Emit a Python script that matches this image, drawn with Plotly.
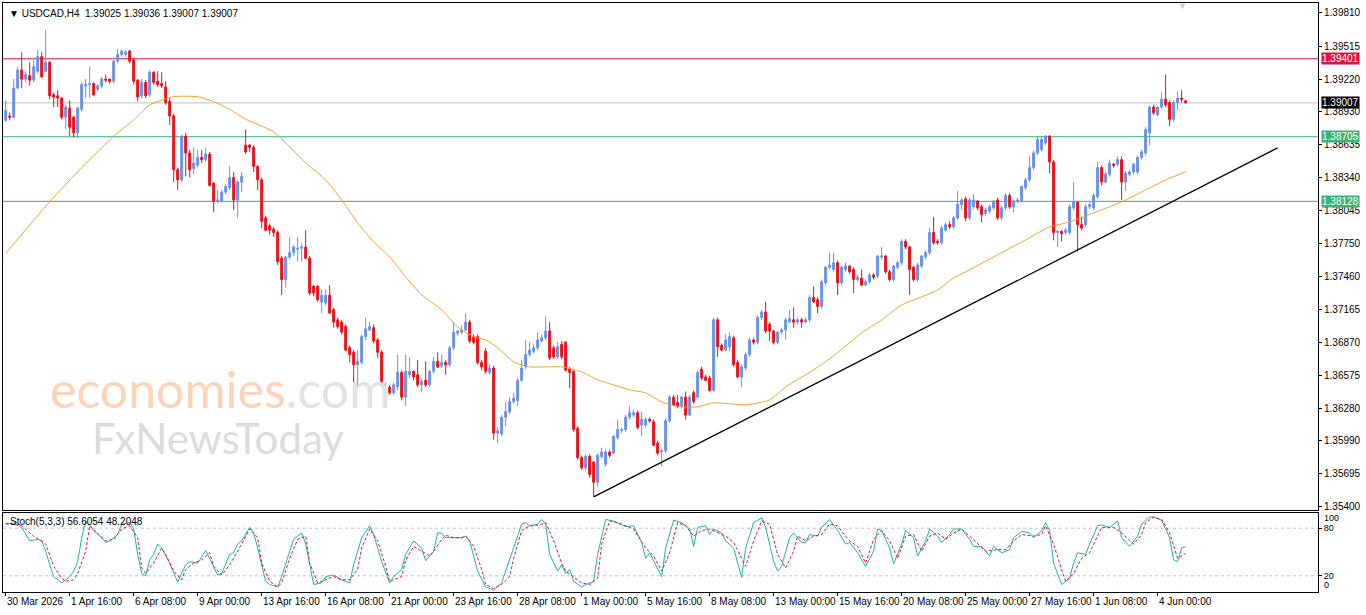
import plotly.graph_objects as go

# ---------------- DATA ----------------
symbol_header = "USDCAD,H4"
last_ohlc = ["1.39025", "1.39036", "1.39007", "1.39007"]

opens = [1.3885,1.3889,1.3888,1.3914,1.3930,1.3922,1.3925,1.3921,1.3929,1.3942,
1.3929,1.3937,1.3908,1.3907,1.3905,1.3888,1.3896,1.3888,1.3874,1.3895,
1.3916,1.3917,1.3918,1.3913,1.3916,1.3922,1.3922,1.3920,1.3938,1.3944,
1.3944,1.3947,1.3939,1.3921,1.3907,1.3919,1.3908,1.3928,1.3920,1.3918,
1.3915,1.3902,1.3889,1.3841,1.3832,1.3871,1.3856,1.3842,1.3845,1.3852,
1.3850,1.3855,1.3829,1.3813,1.3813,1.3821,1.3825,1.3834,1.3814,1.3830,
1.3863,1.3863,1.3861,1.3844,1.3832,1.3798,1.3791,1.3788,1.3785,1.3762,
1.3743,1.3763,1.3767,1.3770,1.3771,1.3772,1.3762,1.3737,1.3737,1.3723,
1.3722,1.3729,1.3716,1.3707,1.3705,1.3701,1.3682,1.3678,1.3667,1.3669,
1.3692,1.3698,1.3700,1.3689,1.3678,1.3638,1.3647,1.3642,1.3647,1.3660,
1.3638,1.3658,1.3661,1.3658,1.3649,1.3653,1.3649,1.3661,1.3670,1.3666,
1.3669,1.3667,1.3682,1.3695,1.3696,1.3698,1.3705,1.3692,1.3692,1.3669,
1.3679,1.3660,1.3664,1.3606,1.3605,1.3620,1.3625,1.3634,1.3635,1.3653,
1.3665,1.3676,1.3679,1.3682,1.3688,1.3691,1.3697,1.3682,1.3674,1.3685,
1.3687,1.3663,1.3661,1.3610,1.3584,1.3575,1.3585,1.3580,1.3562,1.3585,
1.3578,1.3589,1.3588,1.3602,1.3608,1.3609,1.3620,1.3622,1.3624,1.3613,
1.3613,1.3618,1.3616,1.3597,1.3589,1.3590,1.3617,1.3638,1.3633,1.3630,
1.3638,1.3622,1.3642,1.3638,1.3663,1.3656,1.3655,1.3644,1.3707,1.3684,
1.3680,1.3683,1.3691,1.3669,1.3656,1.3664,1.3676,1.3689,1.3687,1.3709,
1.3714,1.3703,1.3697,1.3687,1.3696,1.3698,1.3705,1.3707,1.3705,1.3707,
1.3705,1.3707,1.3727,1.3725,1.3719,1.3740,1.3754,1.3752,1.3758,1.3740,
1.3752,1.3755,1.3752,1.3743,1.3744,1.3738,1.3741,1.3747,1.3746,1.3763,
1.3764,1.3750,1.3743,1.3754,1.3758,1.3777,1.3772,1.3754,1.3743,1.3755,
1.3763,1.3767,1.3785,1.3777,1.3776,1.3787,1.3792,1.3790,1.3798,1.3810,
1.3815,1.3798,1.3808,1.3813,1.3808,1.3802,1.3804,1.3807,1.3814,1.3798,
1.3807,1.3818,1.3808,1.3813,1.3813,1.3825,1.3832,1.3843,1.3856,1.3859,
1.3865,1.3871,1.3848,1.3785,1.3786,1.3785,1.3785,1.3807,1.3812,1.3792,
1.3792,1.3808,1.3807,1.3817,1.3843,1.3830,1.3837,1.3846,1.3846,1.3850,
1.3830,1.3837,1.3839,1.3839,1.3852,1.3856,1.3874,1.3897,1.3890,1.3897,
1.3904,1.3901,1.3886,1.3901,1.3905,1.39025]

highs = [1.3903,1.3892,1.3922,1.3933,1.3946,1.3929,1.3937,1.3939,1.3948,1.3946,
1.3966,1.3938,1.3910,1.3912,1.3906,1.3899,1.3903,1.3889,1.3897,1.3919,
1.3922,1.3933,1.3919,1.3917,1.3924,1.3926,1.3922,1.3939,1.3949,1.3948,
1.3948,1.3948,1.3941,1.3922,1.3922,1.3921,1.3930,1.3929,1.3929,1.3928,
1.3920,1.3905,1.3891,1.3843,1.3872,1.3874,1.3859,1.3861,1.3859,1.3859,
1.3861,1.3857,1.3830,1.3823,1.3823,1.3828,1.3844,1.3839,1.3832,1.3839,
1.3877,1.3864,1.3863,1.3845,1.3834,1.3800,1.3793,1.3790,1.3787,1.3764,
1.3764,1.3781,1.3774,1.3781,1.3776,1.3787,1.3764,1.3738,1.3738,1.3734,
1.3734,1.3738,1.3718,1.3709,1.3707,1.3703,1.3684,1.3680,1.3680,1.3694,
1.3709,1.3705,1.3703,1.3691,1.3680,1.3651,1.3649,1.3651,1.3676,1.3662,
1.3676,1.3674,1.3662,1.3671,1.3655,1.3670,1.3662,1.3674,1.3678,1.3676,
1.3671,1.3684,1.3705,1.3698,1.3702,1.3713,1.3707,1.3694,1.3694,1.3671,
1.3682,1.3667,1.3666,1.3611,1.3622,1.3634,1.3638,1.3642,1.3655,1.3671,
1.3689,1.3687,1.3685,1.3696,1.3694,1.3710,1.3705,1.3684,1.3687,1.3688,
1.3688,1.3665,1.3662,1.3612,1.3586,1.3587,1.3587,1.3581,1.3588,1.3593,
1.3591,1.3591,1.3604,1.3618,1.3611,1.3622,1.3630,1.3627,1.3626,1.3625,
1.3620,1.3620,1.3618,1.3599,1.3592,1.3619,1.3640,1.3640,1.3640,1.3639,
1.3643,1.3640,1.3644,1.3662,1.3665,1.3658,1.3657,1.3709,1.3709,1.3686,
1.3694,1.3696,1.3693,1.3671,1.3667,1.3678,1.3691,1.3691,1.3711,1.3716,
1.3723,1.3705,1.3698,1.3697,1.3700,1.3709,1.3716,1.3718,1.3709,1.3709,
1.3709,1.3729,1.3737,1.3727,1.3743,1.3755,1.3767,1.3767,1.3760,1.3755,
1.3758,1.3756,1.3754,1.3747,1.3752,1.3743,1.3749,1.3749,1.3765,1.3772,
1.3765,1.3752,1.3756,1.3760,1.3779,1.3779,1.3773,1.3755,1.3758,1.3765,
1.3769,1.3789,1.3799,1.3779,1.3791,1.3794,1.3795,1.3800,1.3822,1.3816,
1.3817,1.3816,1.3819,1.3814,1.3810,1.3807,1.3810,1.3814,1.3816,1.3809,
1.3820,1.3820,1.3814,1.3816,1.3827,1.3834,1.3853,1.3858,1.3871,1.3871,
1.3872,1.3872,1.3850,1.3787,1.3787,1.3789,1.3810,1.3830,1.3813,1.3799,
1.3810,1.3812,1.3820,1.3848,1.3845,1.3839,1.3850,1.3847,1.3853,1.3853,
1.3840,1.3841,1.3847,1.3854,1.3859,1.3879,1.3898,1.3899,1.3898,1.3910,
1.3926,1.3903,1.3903,1.3911,1.3912,1.39036]

lows = [1.3884,1.3885,1.3887,1.3913,1.3914,1.3919,1.3916,1.3919,1.3927,1.3923,
1.3928,1.3904,1.3897,1.3897,1.3886,1.3877,1.3871,1.3870,1.3869,1.3893,
1.3905,1.3905,1.3907,1.3911,1.3914,1.3919,1.3918,1.3918,1.3936,1.3942,
1.3942,1.3936,1.3917,1.3902,1.3905,1.3905,1.3906,1.3917,1.3915,1.3914,
1.3899,1.3881,1.3830,1.3823,1.3830,1.3835,1.3834,1.3837,1.3843,1.3847,
1.3848,1.3826,1.3803,1.3811,1.3812,1.3819,1.3823,1.3805,1.3798,1.3821,
1.3855,1.3857,1.3839,1.3823,1.3789,1.3786,1.3783,1.3781,1.3756,1.3729,
1.3736,1.3761,1.3764,1.3759,1.3759,1.3761,1.3729,1.3728,1.3723,1.3713,
1.3720,1.3713,1.3700,1.3699,1.3694,1.3679,1.3669,1.3647,1.3647,1.3667,
1.3689,1.3697,1.3686,1.3673,1.3649,1.3633,1.3640,1.3640,1.3644,1.3635,
1.3630,1.3655,1.3653,1.3647,1.3642,1.3647,1.3647,1.3659,1.3664,1.3664,
1.3658,1.3665,1.3680,1.3693,1.3694,1.3697,1.3686,1.3685,1.3667,1.3662,
1.3659,1.3658,1.3600,1.3597,1.3603,1.3612,1.3623,1.3632,1.3630,1.3652,
1.3663,1.3674,1.3677,1.3680,1.3687,1.3689,1.3671,1.3672,1.3672,1.3672,
1.3661,1.3646,1.3607,1.3582,1.3573,1.3573,1.3566,1.3549,1.3558,1.3583,
1.3576,1.3584,1.3587,1.3600,1.3606,1.3607,1.3618,1.3620,1.3609,1.3603,
1.3611,1.3615,1.3594,1.3586,1.3576,1.3588,1.3615,1.3630,1.3628,1.3628,
1.3618,1.3621,1.3632,1.3637,1.3653,1.3652,1.3643,1.3643,1.3674,1.3679,
1.3679,1.3679,1.3665,1.3655,1.3647,1.3662,1.3674,1.3685,1.3685,1.3707,
1.3695,1.3688,1.3685,1.3685,1.3694,1.3689,1.3704,1.3700,1.3703,1.3700,
1.3704,1.3705,1.3722,1.3713,1.3717,1.3738,1.3752,1.3750,1.3729,1.3738,
1.3750,1.3748,1.3731,1.3741,1.3737,1.3737,1.3739,1.3743,1.3744,1.3761,
1.3748,1.3741,1.3741,1.3752,1.3756,1.3770,1.3729,1.3741,1.3741,1.3753,
1.3761,1.3765,1.3774,1.3774,1.3774,1.3786,1.3788,1.3788,1.3796,1.3805,
1.3795,1.3796,1.3806,1.3805,1.3794,1.3800,1.3802,1.3805,1.3796,1.3796,
1.3805,1.3806,1.3803,1.3811,1.3812,1.3823,1.3830,1.3841,1.3854,1.3857,
1.3863,1.3838,1.3778,1.3772,1.3777,1.3783,1.3783,1.3805,1.3768,1.3787,
1.3790,1.3806,1.3805,1.3815,1.3827,1.3829,1.3835,1.3843,1.3844,1.3814,
1.3822,1.3835,1.3837,1.3837,1.3850,1.3854,1.3863,1.3890,1.3889,1.3895,
1.3897,1.3880,1.3884,1.3894,1.3901,1.39007]

closes = [1.3894,1.3888,1.3914,1.3930,1.3922,1.3926,1.3921,1.3933,1.3942,1.3924,
1.3937,1.3907,1.3906,1.3905,1.3888,1.3897,1.3879,1.3874,1.3896,1.3917,
1.3917,1.3918,1.3908,1.3916,1.3922,1.3921,1.3920,1.3938,1.3944,1.3947,
1.3946,1.3938,1.3920,1.3906,1.3919,1.3907,1.3928,1.3919,1.3917,1.3916,
1.3901,1.3889,1.3841,1.3832,1.3871,1.3856,1.3841,1.3847,1.3852,1.3850,
1.3855,1.3827,1.3813,1.3814,1.3821,1.3826,1.3834,1.3814,1.3830,1.3835,
1.3857,1.3861,1.3844,1.3832,1.3795,1.3787,1.3787,1.3785,1.3759,1.3743,
1.3763,1.3767,1.3772,1.3771,1.3772,1.3762,1.3731,1.3731,1.3725,1.3729,
1.3729,1.3713,1.3705,1.3701,1.3696,1.3680,1.3676,1.3667,1.3670,1.3692,
1.3699,1.3701,1.3688,1.3678,1.3652,1.3645,1.3642,1.3649,1.3660,1.3638,
1.3661,1.3661,1.3656,1.3649,1.3652,1.3649,1.3661,1.3670,1.3665,1.3669,
1.3667,1.3682,1.3696,1.3697,1.3698,1.3705,1.3688,1.3687,1.3669,1.3665,
1.3661,1.3664,1.3606,1.3608,1.3620,1.3625,1.3634,1.3637,1.3653,1.3664,
1.3676,1.3680,1.3682,1.3689,1.3691,1.3697,1.3673,1.3674,1.3683,1.3674,
1.3662,1.3660,1.3609,1.3584,1.3575,1.3585,1.3569,1.3562,1.3586,1.3589,
1.3589,1.3586,1.3603,1.3609,1.3609,1.3620,1.3624,1.3624,1.3611,1.3618,
1.3618,1.3617,1.3595,1.3588,1.3590,1.3617,1.3638,1.3631,1.3630,1.3638,
1.3622,1.3638,1.3634,1.3660,1.3655,1.3653,1.3644,1.3707,1.3683,1.3680,
1.3689,1.3692,1.3667,1.3656,1.3665,1.3676,1.3689,1.3687,1.3709,1.3714,
1.3697,1.3697,1.3687,1.3696,1.3698,1.3707,1.3708,1.3705,1.3707,1.3705,
1.3707,1.3727,1.3723,1.3719,1.3741,1.3754,1.3756,1.3758,1.3740,1.3754,
1.3755,1.3750,1.3743,1.3745,1.3738,1.3741,1.3747,1.3745,1.3764,1.3764,
1.3750,1.3743,1.3755,1.3758,1.3777,1.3772,1.3752,1.3743,1.3756,1.3764,
1.3767,1.3785,1.3776,1.3776,1.3789,1.3792,1.3790,1.3798,1.3810,1.3814,
1.3798,1.3814,1.3814,1.3807,1.3801,1.3805,1.3808,1.3813,1.3798,1.3807,
1.3818,1.3808,1.3813,1.3814,1.3826,1.3832,1.3843,1.3856,1.3868,1.3868,
1.3871,1.3848,1.3785,1.3786,1.3784,1.3787,1.3808,1.3812,1.3792,1.3789,
1.3808,1.3810,1.3818,1.3843,1.3830,1.3837,1.3847,1.3845,1.3850,1.3830,
1.3838,1.3839,1.3846,1.3852,1.3857,1.3877,1.3897,1.3892,1.3897,1.3904,
1.3899,1.3886,1.3901,1.3905,1.3904,1.39007]

# moving average (orange) read at sampled bars
ma_bars = [0,11,19,27,32,36,42,48,52,56,60,67,75,80,84,88,92,96,100,104,109,113,117,120,
           123,127,131,135,139,144,148,152,156,160,164,169,173,177,185,191,195,202,208,214,219,224,229,
           233,237,240,247,255,261,266,272,279,285,290,295]
ma_vals = [1.37664,1.38125,1.38428,1.38709,1.38854,1.38988,1.39062,1.39062,1.39018,1.38950,1.38861,
           1.38748,1.38471,1.38319,1.38141,1.37935,1.37766,1.37632,1.37453,1.37293,
           1.37159,1.37007,1.36918,1.36891,1.36820,1.36695,1.36650,1.36650,1.36650,1.36605,1.36534,1.36489,
           1.36445,1.36418,1.36337,1.36293,1.36293,1.36329,1.36311,1.36355,1.36471,1.36623,1.36775,1.36953,
           1.37069,1.37203,1.37275,1.37337,1.37444,1.37498,1.37632,1.37784,1.37900,1.37944,1.38025,1.38123,
           1.38230,1.38319,1.38391]

# trend line anchors (bar, price)
trend_bars = [147, 318]
trend_prices = [1.35490, 1.38605]

# horizontal levels
resistance_level = 1.39401
support_levels = [1.38705, 1.38128]
current_price = 1.39007

# stochastic (5,3,3)
stoch_label = "Stoch(5,3,3) 56.6054 48.2048"
k_pairs = [(0,85),(1,86),(3,87),(4,81),(6,64),(8,66),(9,64),(10,51),(11,34),(12,19),(14,11),(15,15),(16,19),
(17,26),(18,38),(19,68),(20,89),(22,77),(24,68),(25,62),(26,64),(28,72),(29,85),(31,87),(32,79),(33,47),(34,23),
(35,20),(36,40),(37,47),(38,60),(39,55),(41,36),(43,12),(44,23),(45,34),(46,38),(48,36),(50,52),(51,42),(53,21),
(54,23),(56,47),(57,49),(58,60),(59,64),(61,81),(62,74),(63,55),(65,13),(66,9),(68,6),(69,19),(71,51),(72,66),
(74,74),(75,60),(77,9),(79,11),(80,19),(82,21),(84,15),(86,11),(87,34),(89,68),(91,83),(92,72),(94,38),(96,11),
(97,19),(99,28),(100,47),(102,64),(104,55),(105,39),(107,51),(108,74),(109,74),(110,68),(112,68),(114,68),(115,70),
(116,64),(118,26),(120,6),(122,2),(124,11),(125,26),(127,55),(129,85),(130,87),(131,83),(133,85),(134,91),(135,85),
(136,47),(138,26),(139,34),(140,23),(141,28),(142,13),(144,6),(145,9),(147,13),(148,47),(150,91),(152,89),(154,85),
(155,82),(157,83),(159,62),(160,42),(161,49),(164,19),(165,55),(167,90),(169,87),(171,79),(172,57),(173,81),(175,83),
(176,72),(177,79),(179,74),(180,64),(182,55),(184,18),(185,55),(187,87),(189,93),(190,81),(192,38),(193,26),(194,32),
(196,68),(197,74),(199,62),(200,62),(201,72),(203,70),(204,81),(206,91),(208,77),(210,60),(211,62),(213,49),(215,32),
(217,51),(218,79),(219,77),(221,55),(222,35),(224,60),(225,77),(227,68),(228,45),(230,64),(231,79),(233,70),(234,62),
(236,72),(237,79),(239,79),(241,66),(242,57),(244,57),(246,45),(247,57),(249,49),(251,53),(252,68),(254,76),(256,74),
(257,68),(259,77),(260,87),(261,77),(262,36),(264,9),(266,17),(267,36),(268,49),(270,47),(271,60),(273,83),(274,84),
(276,81),(278,89),(279,68),(281,57),(283,70),(284,85),(286,94),(287,94),(289,90),(291,68),(292,40),(293,38),(294,55),
(295,56.6)]
d_pairs = [(0,86),(4,83),(7,70),(9,64),(10,60),(12,32),(14,17),(15,13),(17,15),(18,23),(20,51),(21,83),(23,74),
(25,64),(27,66),(29,79),(31,83),(33,68),(34,30),(35,23),(37,36),(39,55),(40,47),(42,26),(44,15),(45,28),(47,36),
(49,40),(51,49),(52,32),(54,21),(56,34),(58,51),(59,60),(61,79),(63,68),(64,36),(66,13),(68,6),(69,11),(71,42),
(73,66),(75,70),(76,36),(78,11),(80,15),(82,19),(84,15),(86,15),(88,28),(89,55),(91,79),(93,64),(95,32),(96,13),
(99,19),(100,40),(102,57),(104,51),(106,45),(107,51),(109,66),(110,71),(112,68),(114,68),(115,70),(117,57),(119,28),
(120,9),(122,4),(124,9),(126,19),(127,42),(129,77),(131,83),(132,83),(134,85),(135,87),(137,64),(139,36),(140,26),
(142,19),(144,11),(146,9),(148,17),(149,60),(151,89),(153,87),(155,83),(157,79),(160,55),(162,45),(164,26),(166,49),
(168,87),(170,83),(172,70),(174,77),(176,79),(178,74),(180,70),(182,62),(184,42),(185,32),(187,64),(189,89),(191,85),
(193,47),(195,30),(197,51),(198,70),(200,64),(202,70),(204,72),(206,85),(208,83),(210,70),(211,64),(213,57),(215,36),
(217,66),(219,77),(221,64),(223,42),(225,70),(227,72),(229,51),(231,70),(233,74),(235,66),(237,74),(239,79),(241,70),
(243,60),(245,51),(248,53),(250,53),(252,64),(254,72),(257,70),(259,72),(260,83),(262,60),(264,28),(265,13),(267,23),
(269,42),(271,49),(272,60),(274,81),(277,81),(279,74),(282,60),(284,72),(285,87),(287,94),(289,91),(291,74),(293,42),
(295,48.2)]
stoch_levels = [80, 20]

# axis labels
price_ticks = [1.39810,1.39515,1.39220,1.38930,1.38635,1.38340,1.38045,1.37750,1.37460,1.37165,
               1.36870,1.36575,1.36280,1.35990,1.35695,1.35400]
time_tick_bars = [0,16,32,48,64,80,96,112,128,144,160,176,192,208,224,240,256,272,288]
time_tick_labels = ["30 Mar 2026","1 Apr 16:00","6 Apr 08:00","9 Apr 00:00","13 Apr 16:00","16 Apr 08:00",
                    "21 Apr 00:00","23 Apr 16:00","28 Apr 08:00","1 May 00:00","5 May 16:00","8 May 08:00",
                    "13 May 00:00","15 May 16:00","20 May 08:00","25 May 00:00","27 May 16:00","1 Jun 08:00",
                    "4 Jun 00:00"]

# ---------------- FIGURE ----------------
bars = list(range(len(closes)))
BULL = "#6a92e0"
BEAR = "#e8101a"
FONT = "Liberation Sans, Arial, sans-serif"
FS = 10

fig = go.Figure()
fig.add_trace(go.Candlestick(
    x=bars, open=opens, high=highs, low=lows, close=closes,
    increasing=dict(line=dict(color=BULL, width=1), fillcolor=BULL),
    decreasing=dict(line=dict(color=BEAR, width=1), fillcolor=BEAR),
    whiskerwidth=0, xaxis="x", yaxis="y", hoverinfo="skip"))
fig.add_trace(go.Scatter(x=ma_bars, y=ma_vals, mode="lines", line_shape="spline",
                         line=dict(color="#f0a030", width=1, smoothing=0.6), xaxis="x", yaxis="y",
                         hoverinfo="skip"))
fig.add_trace(go.Scatter(x=trend_bars, y=trend_prices, mode="lines",
                         line=dict(color="black", width=1.3), xaxis="x", yaxis="y", hoverinfo="skip"))

fig.add_trace(go.Scatter(x=[p[0] for p in k_pairs], y=[p[1] for p in k_pairs], mode="lines",
                         line=dict(color="#20b2aa", width=1), xaxis="x2", yaxis="y2", hoverinfo="skip"))
fig.add_trace(go.Scatter(x=[p[0] for p in d_pairs], y=[p[1] for p in d_pairs], mode="lines",
                         line=dict(color="#dc143c", width=1, dash="3px,2px"), xaxis="x2", yaxis="y2",
                         hoverinfo="skip"))

shapes = []
def hline(y, color, yref="y", dash="solid", width=1):
    shapes.append(dict(type="line", xref="x domain", yref=yref, x0=0, x1=1, y0=y, y1=y,
                       line=dict(color=color, width=width, dash=dash), layer="below"))

hline(current_price, "#c0c0c0")
hline(resistance_level, "#dc143c")
for s in support_levels:
    hline(s, "#3cb371")
for lv in stoch_levels:
    shapes.append(dict(type="line", xref="x2 domain", yref="y2", x0=0, x1=1, y0=lv, y1=lv,
                       line=dict(color="#c0c0c0", width=1, dash="3px,3px"), layer="below"))

annotations = []
def price_tag(y, bg):
    annotations.append(dict(xref="paper", yref="y", x=1, y=y, xanchor="left", yanchor="middle",
                            xshift=3, text=f"{y:.5f}", showarrow=False, bgcolor=bg, borderpad=0,
                            font=dict(family=FONT, size=FS, color="white")))
price_tag(resistance_level, "#dc143c")
for s in support_levels:
    price_tag(s, "#3cb371")
price_tag(current_price, "#000000")

annotations.append(dict(xref="paper", yref="paper", x=0, y=1, xanchor="left", yanchor="top",
                        xshift=4, yshift=-3, showarrow=False,
                        text="\u25BC " + symbol_header + "\u00a0\u00a0" + " ".join(last_ohlc),
                        font=dict(family=FONT, size=FS, color="black")))
annotations.append(dict(xref="paper", yref="paper", x=0, y=0.1341, xanchor="left", yanchor="top",
                        xshift=5, yshift=-1, showarrow=False, text=stoch_label,
                        font=dict(family=FONT, size=FS, color="black")))
annotations.append(dict(xref="paper", yref="y2", x=1, y=99.1, xanchor="left", yanchor="top",
                        xshift=4, yshift=2, showarrow=False, text="100",
                        font=dict(family=FONT, size=9, color="black")))
annotations.append(dict(xref="paper", yref="y2", x=1, y=-0.4, xanchor="left", yanchor="bottom",
                        xshift=4, yshift=0, showarrow=False, text="0",
                        font=dict(family=FONT, size=9, color="black")))
for b, t in zip(time_tick_bars, time_tick_labels):
    annotations.append(dict(xref="x2", yref="paper", x=b, y=0, xanchor="left", yanchor="top",
                            xshift=-1, yshift=-2, showarrow=False, text=t,
                            font=dict(family=FONT, size=FS, color="black")))
# chart-shift marker
annotations.append(dict(xref="paper", yref="paper", x=0.8973, y=1, xanchor="center", yanchor="top",
                        yshift=4, showarrow=False, text="\u25BC",
                        font=dict(family="Liberation Sans", size=9, color="#c8c8c8")))
# watermark
annotations.append(dict(xref="paper", yref="paper", x=0.034, y=0.345, xanchor="left", yanchor="middle",
                        showarrow=False,
                        text="<span style='color:#fcd2b8'>economies</span><span style='color:#e2e2e2'>.com</span>",
                        font=dict(family="Lato, Liberation Sans, sans-serif", size=50)))
annotations.append(dict(xref="paper", yref="paper", x=0.066, y=0.262, xanchor="left", yanchor="middle",
                        showarrow=False, text="FxNewsToday",
                        font=dict(family="Lato, Liberation Sans, sans-serif", size=42, color="#dcdcdc")))

xr = [-0.675, 328.1]
axis_common = dict(showgrid=False, zeroline=False, showline=True, mirror=True,
                   linecolor="black", linewidth=1)
fig.update_layout(
    width=1366, height=615,
    margin=dict(l=3, r=48, t=3, b=23),
    paper_bgcolor="white", plot_bgcolor="white",
    showlegend=False, hovermode=False,
    font=dict(family=FONT, size=FS, color="black"),
    xaxis=dict(domain=[0, 1], anchor="y", range=xr, showticklabels=False, ticks="",
               rangeslider=dict(visible=False), **axis_common),
    yaxis=dict(domain=[0.1392, 1], anchor="x", side="right", range=[1.35372, 1.39899],
               tickvals=price_ticks, ticktext=[f"{v:.5f}" for v in price_ticks],
               ticks="outside", ticklen=3, tickcolor="black",
               tickfont=dict(family=FONT, size=FS), **axis_common),
    xaxis2=dict(domain=[0, 1], anchor="y2", range=xr, showticklabels=False,
                tickvals=time_tick_bars, ticks="outside", ticklen=3, tickcolor="black",
                rangeslider=dict(visible=False), **axis_common),
    yaxis2=dict(domain=[0, 0.1341], anchor="x2", side="right", range=[-0.4, 99.1],
                tickvals=stoch_levels, ticktext=[str(v) for v in stoch_levels],
                ticks="outside", ticklen=3, tickcolor="black",
                tickfont=dict(family=FONT, size=9), **axis_common),
    shapes=shapes, annotations=annotations,
)

fig.write_html("out.html")
